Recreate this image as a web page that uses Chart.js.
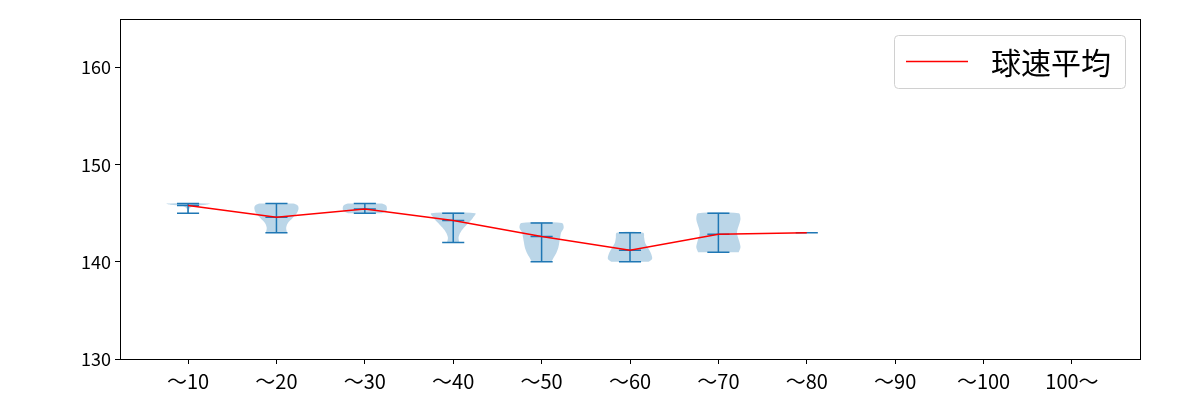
<!DOCTYPE html>
<html>
<head>
<meta charset="utf-8">
<script src="https://cdn.jsdelivr.net/npm/chart.js@4.4.1/dist/chart.umd.min.js"></script>
<style>
  html, body { margin: 0; padding: 0; background: #fff; }
  #wrap { width: 1200px; height: 400px; }
</style>
</head>
<body>
<div id="wrap"><canvas id="myChart" width="1200" height="400"></canvas></div>
<script>
// categories and values
const categories = ["〜10", "〜20", "〜30", "〜40", "〜50", "〜60", "〜70", "〜80", "〜90", "〜100", "100〜"];
const minVals  = [145, 143, 145, 142, 140, 140, 141, 143];
const maxVals  = [146, 146, 146, 145, 144, 143, 145, 143];
const meanVals = [145.8, 144.6, 145.45, 144.25, 142.6, 141.2, 142.85, 143.0];
const yTicks = [130, 140, 150, 160];
const legendLabel = "球速平均";

// violin outlines: [speed, half width] from bottom to top
const violinShapes = [
    [[145, 0.01], [145.5, 0.015], [145.75, 0.06], [145.88, 0.2], [146, 0.25]],
    [[143, 0.12], [143.5, 0.11], [144, 0.13], [144.5, 0.18], [145, 0.23], [145.5, 0.25], [145.8, 0.24], [146, 0.19]],
    [[145, 0.19], [145.2, 0.24], [145.5, 0.25], [145.8, 0.24], [146, 0.19]],
    [[142, 0.07], [142.5, 0.06], [143, 0.08], [143.5, 0.12], [144, 0.17], [144.5, 0.22], [145, 0.25]],
    [[140, 0.11], [140.5, 0.14], [141, 0.17], [141.5, 0.19], [142, 0.2], [142.5, 0.21], [143, 0.22], [143.5, 0.25], [144, 0.23]],
    [[140, 0.21], [140.3, 0.25], [140.8, 0.24], [141.5, 0.2], [142, 0.17], [142.5, 0.16], [143, 0.15]],
    [[141, 0.23], [141.5, 0.25], [142, 0.24], [143, 0.21], [144, 0.24], [144.5, 0.25], [145, 0.23]]
];

const blue = "#1f77b4";
const capHalf = 0.125;

Chart.defaults.font.family = "'Noto Sans CJK JP', 'Noto Sans', sans-serif";
Chart.defaults.font.size = 18;
Chart.defaults.color = "#000";

const datasets = [];

// violins
violinShapes.forEach((shape, i) => {
    const pos = i + 1;
    const right = shape.map(p => ({ x: pos + p[1], y: p[0] }));
    const left = shape.slice().reverse().map(p => ({ x: pos - p[1], y: p[0] }));
    datasets.push({
        data: right.concat(left),
        showLine: true,
        fill: "shape",
        backgroundColor: "rgba(31, 119, 180, 0.3)",
        borderWidth: 0,
        borderColor: "rgba(0,0,0,0)",
        pointRadius: 0,
        tension: 0.3,
        order: 3
    });
});

// min / max / mean bars
const barData = [];
minVals.forEach((mn, i) => {
    const pos = i + 1;
    barData.push({ x: pos, y: mn }, { x: pos, y: maxVals[i] }, { x: pos, y: null });
    [mn, maxVals[i], meanVals[i]].forEach(v => {
        barData.push({ x: pos - capHalf, y: v }, { x: pos + capHalf, y: v }, { x: pos, y: null });
    });
});
datasets.push({
    data: barData,
    showLine: true,
    spanGaps: false,
    borderColor: blue,
    borderWidth: 1.5,
    pointRadius: 0,
    order: 2
});

// mean line
datasets.push({
    label: legendLabel,
    data: meanVals.map((v, i) => ({ x: i + 1, y: v })),
    showLine: true,
    borderColor: "#ff0000",
    borderWidth: 1.5,
    pointRadius: 0,
    order: 1
});

const framePlugin = {
    id: "frame",
    afterDatasetsDraw(chart) {
        const a = chart.chartArea;
        const ctx = chart.ctx;
        ctx.save();
        ctx.strokeStyle = "#000";
        ctx.lineWidth = 1;
        ctx.strokeRect(Math.round(a.left) + 0.5, Math.round(a.top) + 0.5, Math.round(a.right - a.left), Math.round(a.bottom - a.top));
        ctx.restore();
    },
    afterDraw(chart) {
        const a = chart.chartArea;
        const ctx = chart.ctx;
        ctx.save();
        ctx.font = "30px 'Noto Sans CJK JP', sans-serif";
        const tw = ctx.measureText(legendLabel).width;
        const w = 12 + 62 + 23 + tw + 14;
        const h = 53;
        const x = a.right - 15 - w;
        const y = a.top + 16;
        ctx.beginPath();
        ctx.roundRect(x + 0.5, y + 0.5, w, h, 4);
        ctx.fillStyle = "rgba(255,255,255,0.8)";
        ctx.fill();
        ctx.strokeStyle = "#d0d0d0";
        ctx.lineWidth = 1;
        ctx.stroke();
        ctx.beginPath();
        ctx.moveTo(x + 12, y + h / 2);
        ctx.lineTo(x + 74, y + h / 2);
        ctx.strokeStyle = "#ff0000";
        ctx.lineWidth = 1.5;
        ctx.stroke();
        ctx.fillStyle = "#000";
        ctx.textBaseline = "middle";
        ctx.fillText(legendLabel, x + 97, y + h / 2 + 1);
        ctx.restore();
    }
};

const ctx = document.getElementById("myChart").getContext("2d");

const myChart = new Chart(ctx, {
    type: "scatter",
    data: { datasets: datasets },
    options: {
        responsive: false,
        animation: false,
        layout: { padding: { top: 19, right: 60, left: 0, bottom: 0 } },
        plugins: {
            legend: { display: false },
            tooltip: { enabled: false }
        },
        scales: {
            x: {
                type: "linear",
                min: 0.23,
                max: 11.77,
                afterBuildTicks: (scale) => {
                    scale.ticks = categories.map((c, i) => ({ value: i + 1 }));
                },
                afterFit: (scale) => { scale.height = 41; },
                ticks: {
                    padding: 5,
                    maxRotation: 0,
                    autoSkip: false,
                    font: { size: 20 },
                    callback: (value, index) => categories[index]
                },
                grid: { drawOnChartArea: false, drawTicks: true, tickLength: 5, tickColor: "#000" },
                border: { color: "#000", width: 1 }
            },
            y: {
                type: "linear",
                min: 130,
                max: 165,
                afterBuildTicks: (scale) => {
                    scale.ticks = yTicks.map(v => ({ value: v }));
                },
                afterFit: (scale) => { scale.width = 120; },
                ticks: { padding: 4 },
                grid: { drawOnChartArea: false, drawTicks: true, tickLength: 5, tickColor: "#000" },
                border: { color: "#000", width: 1 }
            }
        }
    },
    plugins: [framePlugin]
});
</script>
</body>
</html>
